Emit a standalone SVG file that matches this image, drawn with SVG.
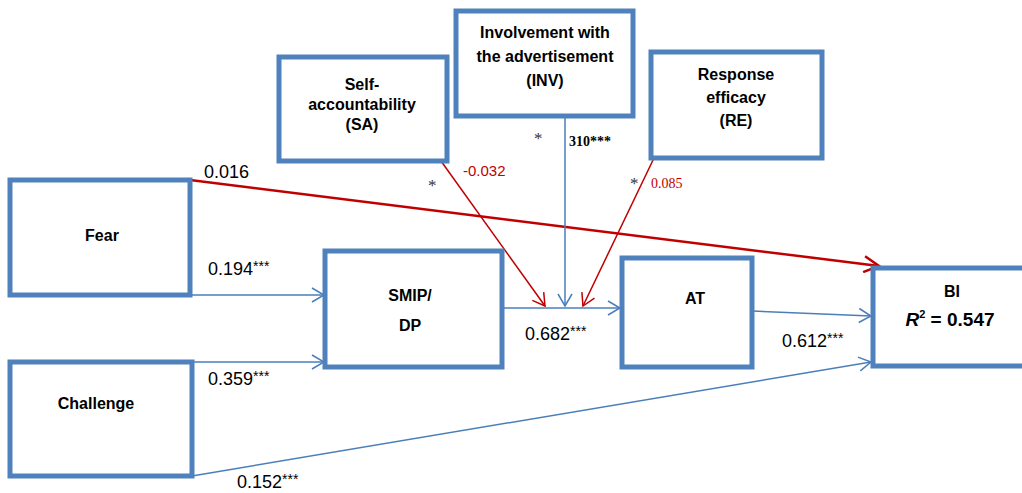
<svg xmlns="http://www.w3.org/2000/svg" width="1022" height="493" viewBox="0 0 1022 493">
  <style>
    .box { fill: #ffffff; stroke: #4f81bd; stroke-width: 5; }
    .lbl { font-family: "Liberation Sans Narrow", "Liberation Sans", Arial, sans-serif; font-weight: bold; font-size: 16px; fill: #000; text-anchor: middle; }
    .coef { font-family: "Liberation Sans Narrow", "Liberation Sans", Arial, sans-serif; font-size: 18px; fill: #000; }
    .coef.neg { font-size: 15px; fill: #c00000; }
    .star { font-size: 14px; }
    .blue { fill: none; stroke: #4a7ebb; stroke-width: 1.5; }
    .red { fill: none; stroke: #c00000; stroke-width: 1.5; }
    .redthick { fill: none; stroke: #c00000; stroke-width: 2.5; }
    .serif { font-family: "Liberation Serif", "Times New Roman", serif; }
    .ast { font-family: "Liberation Serif", "Times New Roman", serif; font-size: 17px; fill: #333; }
  </style>
  <defs>
    <marker id="arrBlue" viewBox="0 0 14 16" refX="13" refY="8" markerWidth="14" markerHeight="16" markerUnits="userSpaceOnUse" orient="auto">
      <path d="M1,1 L13,8 L1,15" fill="none" stroke="#4a7ebb" stroke-width="1.5"/>
    </marker>
    <marker id="arrRed" viewBox="0 0 14 16" refX="13" refY="8" markerWidth="14" markerHeight="16" markerUnits="userSpaceOnUse" orient="auto">
      <path d="M1,1 L13,8 L1,15" fill="none" stroke="#c00000" stroke-width="1.5"/>
    </marker>
    <marker id="arrRedBig" viewBox="0 0 18 18" refX="16" refY="9" markerWidth="18" markerHeight="18" markerUnits="userSpaceOnUse" orient="auto">
      <path d="M1,1 L16,9 L1,17" fill="none" stroke="#c00000" stroke-width="2.5"/>
    </marker>
  </defs>

  <rect width="1022" height="493" fill="#ffffff"/>

  <!-- paths between constructs -->
  <g id="connectors">
    <line class="redthick" x1="190" y1="180" x2="879" y2="266" marker-end="url(#arrRedBig)"/>
    <line class="blue" x1="190" y1="295" x2="324" y2="295" marker-end="url(#arrBlue)"/>
    <line class="blue" x1="192" y1="362" x2="324" y2="362" marker-end="url(#arrBlue)"/>
    <line class="blue" x1="192" y1="476" x2="871" y2="362" marker-end="url(#arrBlue)"/>
    <line class="blue" x1="502" y1="308" x2="620" y2="308" marker-end="url(#arrBlue)"/>
    <line class="blue" x1="752" y1="311" x2="871" y2="316" marker-end="url(#arrBlue)"/>
    <!-- moderating effects on SMIP/DP -> AT -->
    <line class="red" x1="441" y1="161" x2="545" y2="306" marker-end="url(#arrRed)"/>
    <line class="blue" x1="565" y1="116" x2="565" y2="306" marker-end="url(#arrBlue)"/>
    <line class="red" x1="654" y1="158" x2="583" y2="306" marker-end="url(#arrRed)"/>
  </g>

  <!-- path coefficients -->
  <g id="coefficients">
    <text class="coef" x="204" y="178">0.016</text>
    <text class="coef" x="208" y="275">0.194<tspan class="star" dy="-4">***</tspan></text>
    <text class="coef" x="208" y="385">0.359<tspan class="star" dy="-4">***</tspan></text>
    <text class="coef" x="237" y="488">0.152<tspan class="star" dy="-4">***</tspan></text>
    <text class="coef" x="525" y="340">0.682<tspan class="star" dy="-4">***</tspan></text>
    <text class="coef" x="782" y="347">0.612<tspan class="star" dy="-4">***</tspan></text>
    <text class="coef neg" x="463" y="176">-0.032</text>
    <text class="ast" x="428" y="191">*</text>
    <text class="ast" x="534" y="144">*</text>
    <text class="serif" x="569" y="146" font-size="14" font-weight="bold" fill="#000">310***</text>
    <text class="ast" x="630" y="189">*</text>
    <text class="serif" x="651" y="188" font-size="14" fill="#c00000">0.085</text>
  </g>

  <g id="node-sa">
    <rect class="box" x="279" y="57" width="168" height="104"/>
    <text class="lbl" x="362" y="90">Self-</text>
    <text class="lbl" x="362" y="110">accountability</text>
    <text class="lbl" x="362" y="130">(SA)</text>
  </g>

  <g id="node-inv">
    <rect class="box" x="456" y="11" width="177" height="105"/>
    <text class="lbl" x="545" y="38">Involvement with</text>
    <text class="lbl" x="545" y="62">the advertisement</text>
    <text class="lbl" x="545" y="86">(INV)</text>
  </g>

  <g id="node-re">
    <rect class="box" x="651" y="52" width="171" height="106"/>
    <text class="lbl" x="736" y="80">Response</text>
    <text class="lbl" x="736" y="103">efficacy</text>
    <text class="lbl" x="736" y="126">(RE)</text>
  </g>

  <g id="node-fear">
    <rect class="box" x="10" y="180" width="180" height="115"/>
    <text class="lbl" x="102" y="241">Fear</text>
  </g>

  <g id="node-challenge">
    <rect class="box" x="10" y="362" width="182" height="114"/>
    <text class="lbl" x="96" y="409">Challenge</text>
  </g>

  <g id="node-smip">
    <rect class="box" x="325" y="251" width="177" height="116"/>
    <text class="lbl" x="410" y="301">SMIP/</text>
    <text class="lbl" x="410" y="331">DP</text>
  </g>

  <g id="node-at">
    <rect class="box" x="622" y="258" width="130" height="109"/>
    <text class="lbl" x="695" y="304">AT</text>
  </g>

  <g id="node-bi">
    <rect class="box" x="873" y="268" width="160" height="98"/>
    <text class="lbl" x="952" y="297">BI</text>
    <text class="lbl" x="950" y="326" style="font-size:19px"><tspan font-style="italic">R</tspan><tspan style="font-size:11px" dy="-8">2</tspan><tspan dy="8"> = 0.547</tspan></text>
  </g>
</svg>
